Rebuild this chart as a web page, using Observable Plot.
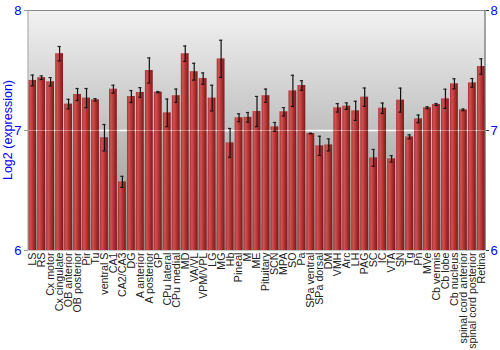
<!DOCTYPE html>
<html>
<head>
<meta charset="utf-8">
<script src="https://cdn.jsdelivr.net/npm/d3@7"></script>
<script src="https://cdn.jsdelivr.net/npm/@observablehq/plot@0.6"></script>
<style>
  html, body { margin: 0; padding: 0; background: #fff; }
  #chart svg { display: block; }
</style>
</head>
<body>
<div id="chart"></div>
<script>
const categories = ["LS","RS","Cx motor","Cx cingulate","OB anterior","OB posterior","Pir","Tu","ventral S","CA1","CA2/CA3","DG","A anterior","A posterior","GP","CPu lateral","CPu medial","MD","VA/VL","VPM/VPL","LG","MG","Hb","Pineal","M","ME","Pituitary","SCN","MPA","SO","Pa","SPa ventral","SPa dorsal","DM","VMH","Arc","LH","PAG","SC","IC","VTA","SN","Tg","Pn","MVe","Cb vermis","Cb lobe","Cb nucleus","spinal cord anterior","spinal cord posterior","Retina"];
const means = [7.417,7.44,7.406,7.64,7.22,7.30,7.27,7.256,6.94,7.344,6.572,7.283,7.317,7.5,7.32,7.147,7.29,7.64,7.49,7.433,7.27,7.597,6.897,7.106,7.11,7.158,7.29,7.03,7.156,7.33,7.375,6.975,6.872,6.88,7.189,7.203,7.164,7.278,6.772,7.186,6.764,7.253,6.947,7.097,7.19,7.217,7.264,7.389,7.172,7.397,7.533];
const errors = [0.045,0.015,0.035,0.06,0.04,0.05,0.08,0.01,0.11,0.033,0.046,0.05,0.04,0.105,0.005,0.115,0.055,0.064,0.07,0.047,0.107,0.155,0.12,0.033,0.04,0.126,0.055,0.037,0.035,0.13,0.04,0.003,0.08,0.05,0.035,0.027,0.08,0.076,0.07,0.043,0.027,0.1,0.017,0.032,0.008,0.008,0.08,0.042,0.007,0.036,0.064];
const yTicks = [6, 7, 8];
const yLabel = "Log2 (expression)";

const data = categories.map((c, i) => ({cat: c, v: means[i], lo: means[i] - errors[i], hi: means[i] + errors[i]}));

const plot = Plot.plot({
  width: 500,
  height: 350,
  marginLeft: 28,
  marginRight: 15,
  marginTop: 10,
  marginBottom: 100,
  style: {fontFamily: "'Liberation Sans', Arial, sans-serif", background: "#fff"},
  x: {domain: categories, paddingInner: 0.13, paddingOuter: 0.03, label: null},
  y: {domain: [6, 8], label: null},
  marks: [
    Plot.frame({fill: "url(#bgGrad)", stroke: null}),
    Plot.ruleY([7], {stroke: "#ffffff", strokeWidth: 1.5}),
    Plot.barY(data, {x: "cat", y1: 6, y2: "v", fill: "url(#barGrad)"}),
    Plot.ruleY([7], {stroke: "#ffffff", strokeOpacity: 0.35, strokeWidth: 1}),
    Plot.ruleX(data, {x: "cat", y1: "lo", y2: "hi", stroke: "#111", strokeWidth: 1.2}),
    Plot.tickY(data, {x: "cat", y: "hi", stroke: "#222", strokeWidth: 1.2, insetLeft: 2.3, insetRight: 2.3}),
    Plot.tickY(data, {x: "cat", y: "lo", stroke: "#111", strokeWidth: 1.2, insetLeft: 2.3, insetRight: 2.3}),
    Plot.ruleY([8], {stroke: "#888"}),
    Plot.axisY(yTicks, {anchor: "left", tickSize: 4, tickPadding: 3, tickFormat: d => String(d), fill: "#0000ff", stroke: "#999", fontSize: 13, label: null}),
    Plot.axisY(yTicks, {anchor: "right", tickSize: 3, tickPadding: 2, tickFormat: d => String(d), fill: "#0000ff", stroke: "#333", fontSize: 13, label: null}),
    Plot.axisX({tickRotate: -90, tickSize: 0, tickPadding: 2, fontSize: 10.7, fill: "#222", label: null})
  ]
});

// definitions for gradients
const svg = d3.select(plot);
const defs = svg.insert("defs", ":first-child");
const bg = defs.append("linearGradient").attr("id", "bgGrad").attr("x1", 0).attr("y1", 0).attr("x2", 0).attr("y2", 1);
bg.append("stop").attr("offset", "0%").attr("stop-color", "#f2f2f2");
bg.append("stop").attr("offset", "100%").attr("stop-color", "#8e8e8e");
const bar = defs.append("linearGradient").attr("id", "barGrad").attr("x1", 0).attr("y1", 0).attr("x2", 1).attr("y2", 0);
bar.append("stop").attr("offset", "0%").attr("stop-color", "#a83030");
bar.append("stop").attr("offset", "25%").attr("stop-color", "#cf5252");
bar.append("stop").attr("offset", "55%").attr("stop-color", "#b73636");
bar.append("stop").attr("offset", "100%").attr("stop-color", "#7e1818");

// axis lines
const L = 28, R = 485, T = 10, B = 250;
svg.append("line").attr("x1", L).attr("x2", L).attr("y1", T).attr("y2", B).attr("stroke", "#999");
svg.append("line").attr("x1", R).attr("x2", R).attr("y1", T).attr("y2", B).attr("stroke", "#555");

// y-axis title
svg.append("text")
  .attr("transform", `translate(12,${(T + B) / 2}) rotate(-90)`)
  .attr("text-anchor", "middle")
  .attr("fill", "#0000ff")
  .attr("font-size", 12.5)
  .attr("font-family", "'Liberation Sans', Arial, sans-serif")
  .text(yLabel);

document.getElementById("chart").appendChild(plot);
</script>
</body>
</html>
